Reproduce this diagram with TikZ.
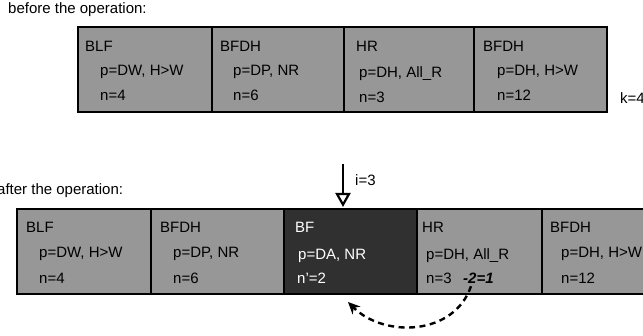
\documentclass[tikz,border=0pt]{standalone}
\usepackage{fontspec}
\setmainfont{Liberation Sans}
\usetikzlibrary{arrows.meta}

\definecolor{cellgray}{HTML}{979797}
\definecolor{celldark}{HTML}{303030}

\tikzset{
  cell/.style={draw=black, line width=2.4pt, fill=cellgray, minimum height=85pt,
               anchor=north west, inner sep=0pt, outer sep=0pt},
  newcell/.style={cell, fill=celldark},
  lbl/.style={anchor=base west, inner sep=0pt, font=\fontsize{15}{17}\selectfont},
  lblw/.style={lbl, text=white},
  insarrow/.style={line width=2.2pt, -{Triangle[open, width=15pt, length=14pt, line width=2.2pt]}},
  movearrow/.style={line width=2.4pt, dash pattern=on 6pt off 4.5pt, -{Stealth[length=12pt, width=11pt]}}
}

\begin{document}
\begin{tikzpicture}[x=1pt, y=-1pt]
\useasboundingbox (0,0) rectangle (643,336);

% ---- sequence before the operation ----
\node[lbl] (hdA) at (8,14) {before the operation:};

\node[cell, minimum width=134pt] (a1) at (78,27) {};
\node[cell, minimum width=132pt] (a2) at (212,27) {};
\node[cell, minimum width=130pt] (a3) at (344,27) {};
\node[cell, minimum width=133pt] (a4) at (474,27) {};

\node[lbl] (a1n) at (85,52)  {BLF};
\node[lbl] (a1p) at (100,76) {p=DW, H>W};
\node[lbl] (a1c) at (100,101) {n=4};

\node[lbl] (a2n) at (220,52) {BFDH};
\node[lbl] (a2p) at (233,76) {p=DP, NR};
\node[lbl] (a2c) at (233,101) {n=6};

\node[lbl] (a3n) at (356,52) {HR};
\node[lbl] (a3p) at (359,78) {p=DH, All\_R};
\node[lbl] (a3c) at (359,103) {n=3};

\node[lbl] (a4n) at (483,52) {BFDH};
\node[lbl] (a4p) at (497,76) {p=DH, H>W};
\node[lbl] (a4c) at (497,101) {n=12};

\node[lbl] (k) at (620,104) {k=4};

% ---- sequence after the operation ----
\node[lbl] (hdB) at (-3,195) {after the operation:};

\node[cell, minimum width=134pt] (b1) at (17,209) {};
\node[cell, minimum width=133pt] (b2) at (151,209) {};
\node[newcell, minimum width=133pt] (b3) at (284,209) {};
\node[cell, minimum width=125pt] (b4) at (417,209) {};
\node[cell, minimum width=140pt] (b5) at (542,209) {};

\node[lbl] (b1n) at (26,233)  {BLF};
\node[lbl] (b1p) at (39,258)  {p=DW, H>W};
\node[lbl] (b1c) at (39,284)  {n=4};

\node[lbl] (b2n) at (160,233) {BFDH};
\node[lbl] (b2p) at (173,258) {p=DP, NR};
\node[lbl] (b2c) at (173,284) {n=6};

\node[lblw] (b3n) at (295,233) {BF};
\node[lblw] (b3p) at (298,260) {p=DA, NR};
\node[lblw] (b3c) at (297,284) {n’=2};

\node[lbl] (b4n) at (422,233) {HR};
\node[lbl] (b4p) at (426,260) {p=DH, All\_R};
\node[lbl] (b4c) at (426,284) {n=3};
\node[lbl, font=\fontsize{15}{17}\selectfont\bfseries\itshape] (b4d) at (463,284) {-2=1};

\node[lbl] (b5n) at (550,233) {BFDH};
\node[lbl] (b5p) at (561,258) {p=DH, H>W};
\node[lbl] (b5c) at (561,284) {n=12};

% insertion point of the new block
\coordinate (ins) at (343,164);
\draw[insarrow] (ins) -- ([yshift=2pt]ins |- b3.north);
\node[lbl] (ilbl) at (355,186) {i=3};

% moved items go back into the new block
\coordinate (back) at (348,302);
\draw[movearrow] ([xshift=8pt,yshift=-2pt]b4d.south west) .. controls (454,336) and (384,338) .. (back);
\end{tikzpicture}
\end{document}
